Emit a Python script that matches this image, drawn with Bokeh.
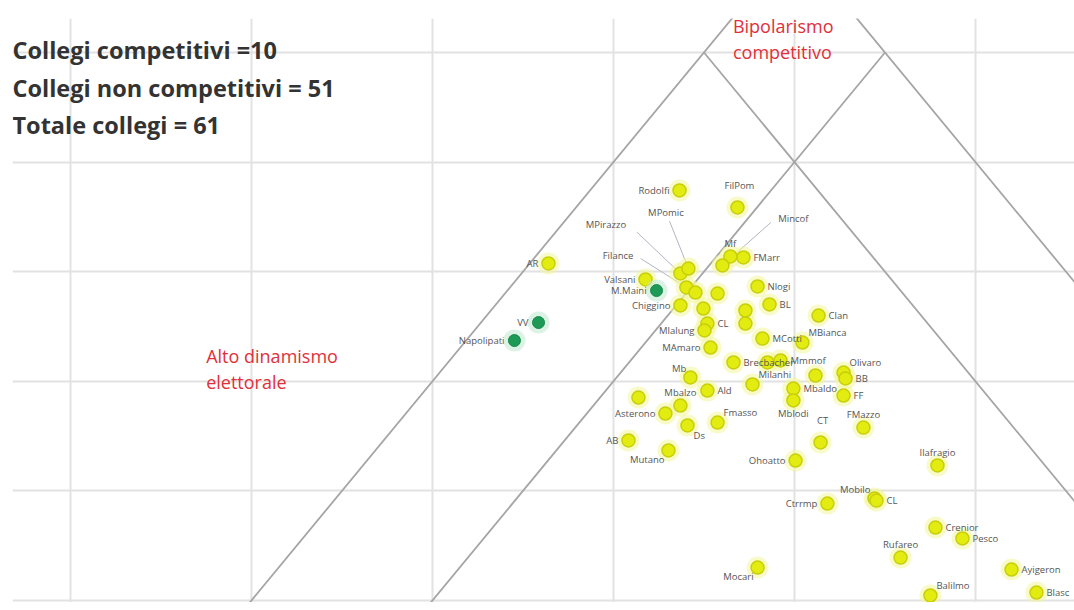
from bokeh.plotting import figure
from bokeh.models import Range1d, FixedTicker, ColumnDataSource
from bokeh.core.properties import value
from bokeh.embed import file_html
from bokeh.resources import INLINE

# ---------------- data ----------------
x_ticks = [0, 10, 20, 30, 40, 50]
y_ticks = [0, 10, 20, 30, 40, 50]

# non competitive constituencies (yellow)
names = ["Rodolfi", "FilPom", "AR", "Valsani", "", "", "", "", "", "Chiggino",
         "Mf", "FMarr", "", "Nlogi", "BL", "Clan", "", "", "MBianca", "CL",
         "MAmaro", "Mlalung", "MCotti", "Brecbacher", "", "Mmmof", "Olivaro", "BB", "Milanhi", "",
         "Mbaldo", "FF", "Mblodi", "CT", "FMazzo", "Ohoatto", "Mb", "Ald", "", "Asterono",
         "Mbalzo", "Ds", "Fmasso", "AB", "Mutano", "Ilafragio", "Mobilo", "CL", "Ctrrmp", "Crenior",
         "Pesco", "Rufareo", "Mocari", "Ayigeron", "Balilmo", "Blasc", ""]
xs = [33.65, 36.85, 26.41, 31.77, 33.70, 34.14, 34.03, 34.53, 35.75, 33.70,
      36.46, 37.18, 36.02, 37.96, 38.62, 41.33, 37.29, 37.29, 40.44, 35.19,
      35.36, 35.03, 38.23, 36.63, 38.51, 39.23, 42.71, 42.82, 37.68, 41.16,
      39.94, 42.71, 39.94, 41.44, 43.81, 40.06, 34.25, 35.19, 31.38, 32.87,
      33.70, 34.09, 35.75, 30.83, 33.04, 47.90, 44.42, 44.53, 41.82, 47.79,
      49.28, 45.86, 37.96, 51.99, 47.51, 53.37, 34.97]
ys = [37.41, 35.86, 30.75, 29.29, 29.84, 30.29, 28.56, 28.10, 28.01, 26.92,
      31.39, 31.30, 30.57, 28.65, 27.01, 26.00, 26.46, 25.27, 23.54, 25.27,
      23.08, 24.64, 23.90, 21.72, 21.72, 21.90, 20.80, 20.26, 19.71, 20.53,
      19.34, 18.70, 18.25, 14.42, 15.78, 12.77, 20.35, 19.16, 18.52, 17.06,
      17.79, 15.97, 16.24, 14.60, 13.69, 12.32, 9.31, 9.12, 8.85, 6.66,
      5.66, 3.92, 3.01, 2.83, 0.46, 0.73, 26.64]
sides = ["l", "a2", "l", "l", "", "", "", "", "", "l",
         "a", "r", "", "r", "r", "r", "", "", "ar", "r",
         "l", "l", "r", "r", "", "r", "ar", "r", "ar", "",
         "r", "r", "b", "a2", "a", "l", "al", "r", "", "l",
         "a", "br", "ar", "l", "bl", "a", "al", "r", "l", "r",
         "r", "a", "bl", "r", "ar", "r", ""]

# competitive constituencies (green)
comp_names = ["M.Maini", "VV", "Napolipati"]
comp_x = [32.38, 25.86, 24.53]
comp_y = [28.28, 25.36, 23.72]

# labels with leader lines
lead_names = ["MPirazzo", "MPomic", "Filance", "Mincof"]
lead_lx = [30.7, 32.9, 31.1, 39.1]
lead_ly = [34.3, 35.4, 31.5, 34.85]
lead_x0 = [31.3, 33.1, 31.5, 38.7]
lead_y0 = [33.6, 34.6, 31.2, 34.5]
lead_x1 = [33.70, 34.14, 34.03, 36.02]
lead_y1 = [29.84, 30.29, 28.56, 30.57]
lead_align = ["right", "center", "right", "left"]

# zone boundaries  y = m*x + q, drawn between y_from and y_to
line_m = [2, 2, -2, -2]
line_q = [-20, -40, 120, 140]
line_y_from = [-2, -2, 50, 57]
line_y_to = [57, 50, -2, -2]

header = ["Collegi competitivi =10", "Collegi non competitivi = 51", "Totale collegi = 61"]
header_y = [50.2, 46.8, 43.4]
header_x = -3.2

zone1 = ["Alto dinamismo", "elettorale"]
zone1_x = 7.5
zone1_y = [22.35, 19.95]
zone2 = ["Bipolarismo", "competitivo"]
zone2_x = 36.6
zone2_y = [52.45, 50.0]

# ---------------- figure ----------------
p = figure(width=1074, height=602, x_range=Range1d(-3.2, 55.47), y_range=Range1d(-0.18, 53.1),
           output_backend="svg", toolbar_location=None,
           min_border_left=12, min_border_top=18, min_border_right=0, min_border_bottom=0)
p.xaxis.visible = False
p.yaxis.visible = False
p.outline_line_color = None
p.xgrid.ticker = FixedTicker(ticks=x_ticks)
p.ygrid.ticker = FixedTicker(ticks=y_ticks)
for g in (p.xgrid, p.ygrid):
    g.grid_line_color = "#e2e2e2"
    g.grid_line_width = 2

# boundary lines
bx0 = [(yf - q) / m for m, q, yf in zip(line_m, line_q, line_y_from)]
bx1 = [(yt - q) / m for m, q, yt in zip(line_m, line_q, line_y_to)]
p.segment(x0=bx0, y0=line_y_from, x1=bx1, y1=line_y_to, line_color="#a5a5a5", line_width=1.8)

# leader lines
p.segment(x0=lead_x0, y0=lead_y0, x1=lead_x1, y1=lead_y1, line_color="#b4b4c4", line_width=1)

# points
p.scatter(xs, ys, size=22, fill_color="#f2f59a", fill_alpha=0.55, line_color=None)
p.scatter(xs, ys, size=13, fill_color="#e3ec10", line_color="#c8cf0a", line_width=1.5)
p.scatter(comp_x, comp_y, size=22, fill_color="#c3ead2", fill_alpha=0.6, line_color=None)
p.scatter(comp_x, comp_y, size=12, fill_color="#1d9a55", line_color="#188a4a", line_width=1)

# point labels
style = {
    "l": ("right", -10, 0), "r": ("left", 10, 0), "a": ("center", 0, -13),
    "a2": ("center", 2, -22), "b": ("center", 0, 13), "ar": ("left", 6, -10),
    "al": ("right", -4, -9), "br": ("left", 6, 10), "bl": ("right", -4, 9),
}
lx, ly, lt, la, lxo, lyo = [], [], [], [], [], []
for n, x, y, s in zip(names + comp_names, xs + comp_x, ys + comp_y, sides + ["l", "l", "l"]):
    if not s or not n:
        continue
    a, xo, yo = style[s]
    lx.append(x); ly.append(y); lt.append(n); la.append(a); lxo.append(xo); lyo.append(yo)
src = ColumnDataSource(dict(x=lx, y=ly, t=lt, a=la, xo=lxo, yo=lyo))
p.text(x="x", y="y", text="t", source=src, text_align="a", x_offset="xo", y_offset="yo",
       text_baseline="middle", text_font=value("Open Sans"), text_font_size="9.5px",
       text_color="#555555")
p.text(x=lead_lx, y=lead_ly, text=lead_names, text_align=lead_align, text_baseline="middle",
       text_font=value("Open Sans"), text_font_size="9.5px", text_color="#555555")

# header
p.text(x=[header_x] * 3, y=header_y, text=header, text_align="left", text_baseline="middle",
       text_font=value("Open Sans"), text_font_style="bold", text_font_size="23.5px", text_color="#333333")

# zone titles
p.text(x=[zone1_x] * 2, y=zone1_y, text=zone1, text_align="left", text_baseline="middle",
       text_font=value("Open Sans"), text_font_size="18px", text_color="#e0303a")
p.text(x=[zone2_x] * 2, y=zone2_y, text=zone2, text_align="left", text_baseline="middle",
       text_font=value("Open Sans"), text_font_size="18px", text_color="#e0303a")

open("out.html", "w").write(file_html(p, INLINE))
